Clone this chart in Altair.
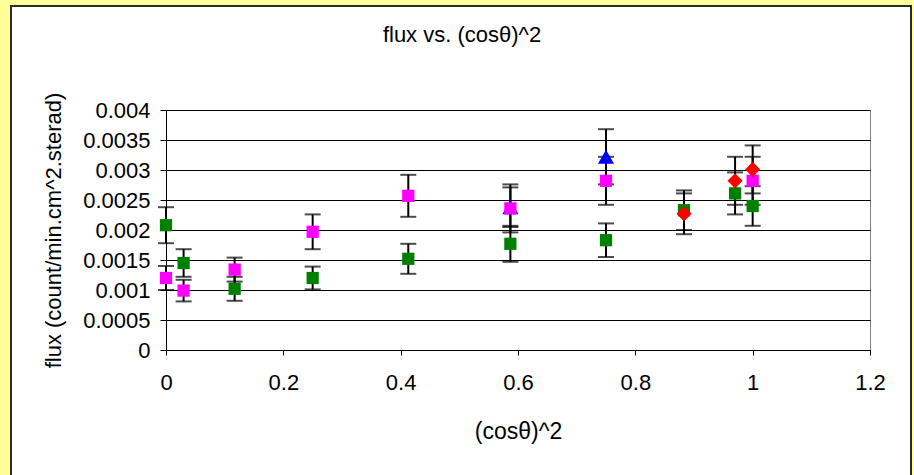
import altair as alt
import pandas as pd

# ---- data ----
green_x = [0.0, 0.030, 0.117, 0.250, 0.413, 0.587, 0.750, 0.883, 0.970, 1.000]
green_y = [0.00208, 0.00145, 0.00102, 0.00120, 0.00152, 0.00177, 0.00183, 0.00233, 0.00261, 0.00240]
green_err = [0.00030, 0.00023, 0.00020, 0.00019, 0.00025, 0.00030, 0.00028, 0.00033, 0.00035, 0.00033]

blue_x = [0.587, 0.750]
blue_y = [0.00238, 0.00322]
blue_err = [0.00033, 0.00046]

pink_x = [0.0, 0.030, 0.117, 0.250, 0.413, 0.587, 0.750, 1.000]
pink_y = [0.00120, 0.00099, 0.00134, 0.00197, 0.00257, 0.00236, 0.00282, 0.00282]
pink_err = [0.00020, 0.00018, 0.00020, 0.00029, 0.00035, 0.00040, 0.00040, 0.00040]

red_x = [0.883, 0.970, 1.000]
red_y = [0.00227, 0.00282, 0.00301]
red_err = [0.00034, 0.00040, 0.00040]

series_names = ["green", "blue", "pink", "red"]
series_colors = ["#008000", "#0000FF", "#FF00FF", "#FF0000"]
series_shapes = ["square", "triangle-up", "square", "diamond"]
series_sizes = [150, 260, 150, 230]

x_ticks = [0, 0.2, 0.4, 0.6, 0.8, 1.0, 1.2]
y_ticks = [0, 0.0005, 0.001, 0.0015, 0.002, 0.0025, 0.003, 0.0035, 0.004]

FONT = "Liberation Sans"
YELLOW = "#FFFF99"
BORDER = "#2b2b2b"

frames = []
for name, xs, ys, es in [
    ("green", green_x, green_y, green_err),
    ("blue", blue_x, blue_y, blue_err),
    ("pink", pink_x, pink_y, pink_err),
    ("red", red_x, red_y, red_err),
]:
    frames.append(pd.DataFrame({"series": name, "x": xs, "y": ys, "err": es}))
df = pd.concat(frames, ignore_index=True)

x_scale = alt.Scale(domain=[0, 1.2], nice=False, zero=False)
y_scale = alt.Scale(domain=[0, 0.004], nice=False)
x_axis = alt.Axis(values=x_ticks, format="~g", title="(cosθ)^2", grid=False, labelFlush=False,
                  tickSize=5, labelPadding=17, titlePadding=27, titleFontSize=23)
y_axis = alt.Axis(values=y_ticks, format="~g", title="flux (count/min.cm^2.sterad)", labelFlush=False,
                  grid=True, tickSize=6, labelPadding=10, titlePadding=17)


def X(field):
    return alt.X(field, scale=x_scale, axis=x_axis)


def Y(field):
    return alt.Y(field, scale=y_scale, axis=y_axis)


base = alt.Chart(df).transform_calculate(lo="datum.y - datum.err", hi="datum.y + datum.err")

one = pd.DataFrame({"a": [0]})


def strip(x1, x2, y1, y2, color):
    return alt.Chart(one).mark_rect(fill=color, strokeWidth=0).encode(
        x=alt.value(x1), x2=alt.value(x2), y=alt.value(y1), y2=alt.value(y2))


# decorative outer chart frame (yellow surround + dark border)
deco = [
    strip(-166, -156, -110, 365, YELLOW),   # left yellow band
    strip(-166, 748, -110, -105, YELLOW),   # top yellow band
    strip(746, 748, -110, 365, YELLOW),     # right yellow band
    strip(-156, -154, -105, 365, BORDER),   # left border
    strip(-156, 746, -105, -103, BORDER),   # top border
    strip(744, 746, -105, 365, BORDER),     # right border
]

rules = base.mark_rule(color="black", strokeWidth=2).encode(
    x=X("x:Q"), y=Y("lo:Q"), y2="hi:Q")
caps_lo = base.mark_tick(color="black", orient="horizontal", size=16, thickness=2).encode(
    x=X("x:Q"), y=Y("lo:Q"))
caps_hi = base.mark_tick(color="black", orient="horizontal", size=16, thickness=2).encode(
    x=X("x:Q"), y=Y("hi:Q"))

point_layers = []
for name, color, shape, size in zip(series_names, series_colors, series_shapes, series_sizes):
    point_layers.append(
        alt.Chart(df).transform_filter(alt.datum.series == name).mark_point(
            filled=True, opacity=1, strokeWidth=0, color=color, shape=shape, size=size
        ).encode(x=X("x:Q"), y=Y("y:Q"))
    )

chart = alt.layer(*deco, rules, caps_lo, caps_hi, *point_layers).properties(
    width=704, height=240,
    autosize=alt.AutoSizeParams(type="none"),
    padding={"left": 166, "top": 110, "right": 44, "bottom": 125},
    background="white",
    title=alt.TitleParams("flux vs. (cosθ)^2", font=FONT, fontSize=22, fontWeight="normal",
                          color="black", anchor="middle", dx=-56, offset=0, dy=47),
).configure_view(
    stroke="#808080", strokeWidth=1
).configure_axis(
    labelFont=FONT, titleFont=FONT, labelFontSize=22, titleFontSize=22,
    labelColor="black", titleColor="black", titleFontWeight="normal",
    domainColor="black", tickColor="black", gridColor="#000000", gridWidth=1,
    domainWidth=1, tickWidth=1,
)

chart.save("out.html", embed_options={"renderer": "svg", "actions": False})
